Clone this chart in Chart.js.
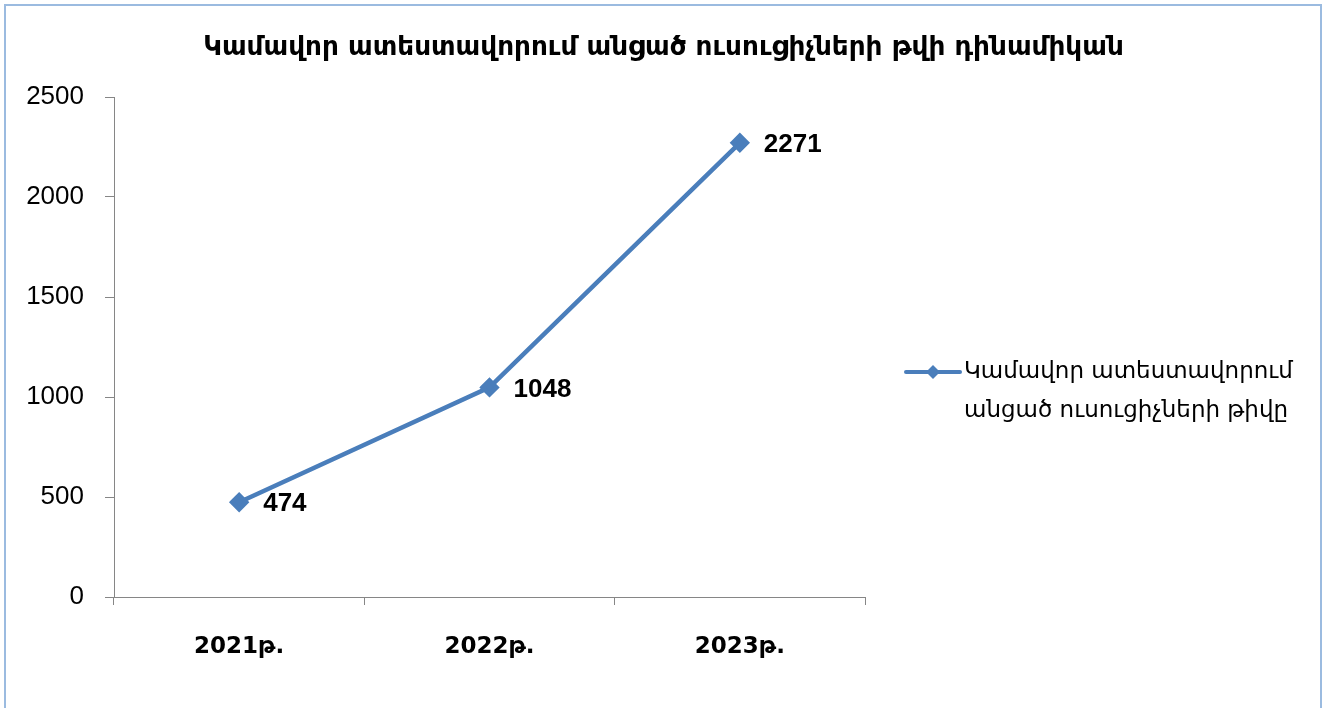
<!DOCTYPE html>
<html>
<head>
<meta charset="utf-8">
<script src="https://cdn.jsdelivr.net/npm/chart.js@4"></script>
<style>
  body { margin: 0; background: #fff; }
  #wrap { position: relative; width: 1327px; height: 708px; overflow: hidden; }
  #frame { position: absolute; left: 4px; top: 4px; width: 1314px; height: 760px; border: 2px solid #9bbbe0; }
  canvas { position: absolute; left: 0; top: 0; }
</style>
</head>
<body>
<div id="wrap">
  <div id="frame"></div>
  <canvas id="myChart" width="1327" height="708"></canvas>
</div>
<script>
const categories = ['2021թ.', '2022թ.', '2023թ.'];
const values = [474, 1048, 2271];
const yTicks = [0, 500, 1000, 1500, 2000, 2500];
const seriesName = ['Կամավոր ատեստավորում', 'անցած ուսուցիչների թիվը'];
const chartTitle = 'Կամավոր ատեստավորում անցած ուսուցիչների թվի դինամիկան';

const lineColor = '#4a7ebb';
const fontFam = '"Liberation Sans", "DejaVu Sans", sans-serif';
const boldFam = '"DejaVu Sans", sans-serif';

const labelsPlugin = {
    id: 'valueLabels',
    afterDatasetsDraw(chart) {
        const ctx = chart.ctx;
        const meta = chart.getDatasetMeta(0);
        ctx.save();
        ctx.font = 'bold 26px ' + fontFam;
        ctx.fillStyle = '#000';
        ctx.textBaseline = 'middle';
        ctx.textAlign = 'left';
        meta.data.forEach((pt, i) => {
            ctx.fillText(String(values[i]), pt.x + 24, pt.y + 2);
        });
        ctx.restore();
    }
};

const titleLegendPlugin = {
    id: 'titleLegend',
    afterDraw(chart) {
        const ctx = chart.ctx;
        ctx.save();
        // title
        ctx.fillStyle = '#000';
        ctx.font = 'bold 26.3px ' + boldFam;
        ctx.textAlign = 'center';
        ctx.textBaseline = 'middle';
        ctx.fillText(chartTitle, chart.width / 2, 48);
        // legend
        const x0 = 906, y0 = 372;
        ctx.strokeStyle = lineColor;
        ctx.lineWidth = 4;
        ctx.lineCap = 'round';
        ctx.beginPath();
        ctx.moveTo(x0, y0);
        ctx.lineTo(x0 + 54, y0);
        ctx.stroke();
        ctx.fillStyle = lineColor;
        ctx.beginPath();
        ctx.moveTo(x0 + 27, y0 - 7);
        ctx.lineTo(x0 + 34, y0);
        ctx.lineTo(x0 + 27, y0 + 7);
        ctx.lineTo(x0 + 20, y0);
        ctx.closePath();
        ctx.fill();
        ctx.fillStyle = '#000';
        ctx.font = '23px ' + boldFam;
        ctx.textAlign = 'left';
        seriesName.forEach((t, i) => ctx.fillText(t, x0 + 58, y0 + i * 39));
        ctx.restore();
    }
};

function renderChart() {
    const ctx = document.getElementById('myChart').getContext('2d');
    new Chart(ctx, {
        type: 'line',
        data: {
            labels: categories,
            datasets: [{
                label: seriesName.join(' '),
                data: values,
                borderColor: lineColor,
                backgroundColor: lineColor,
                borderWidth: 4.5,
                pointStyle: 'rectRot',
                pointRadius: 7,
                pointHoverRadius: 7,
                tension: 0
            }]
        },
        options: {
            responsive: false,
            animation: false,
            layout: { padding: { left: 0, right: 462, top: 97, bottom: 0 } },
            plugins: {
                legend: { display: false },
                tooltip: { enabled: false },
                title: { display: false }
            },
            scales: {
                x: {
                    offset: true,
                    afterFit: s => { s.height = 111; },
                    grid: { display: true, offset: true, drawOnChartArea: false, drawTicks: true, tickLength: 8, color: '#868686', lineWidth: 1 },
                    border: { color: '#868686', width: 1 },
                    ticks: { color: '#000', padding: 28, font: { family: boldFam, size: 23, weight: 'bold' } }
                },
                y: {
                    min: 0,
                    max: 2500,
                    afterFit: s => { s.width = 114; },
                    afterBuildTicks: s => { s.ticks = yTicks.map(v => ({ value: v })); },
                    grid: { drawOnChartArea: false, drawTicks: true, tickLength: 9, color: '#868686' },
                    border: { color: '#868686', width: 1 },
                    ticks: { color: '#000', padding: 21, font: { family: fontFam, size: 26 }, callback: v => String(v) }
                }
            }
        },
        plugins: [labelsPlugin, titleLegendPlugin]
    });
}

document.addEventListener('DOMContentLoaded', renderChart);
</script>
</body>
</html>
